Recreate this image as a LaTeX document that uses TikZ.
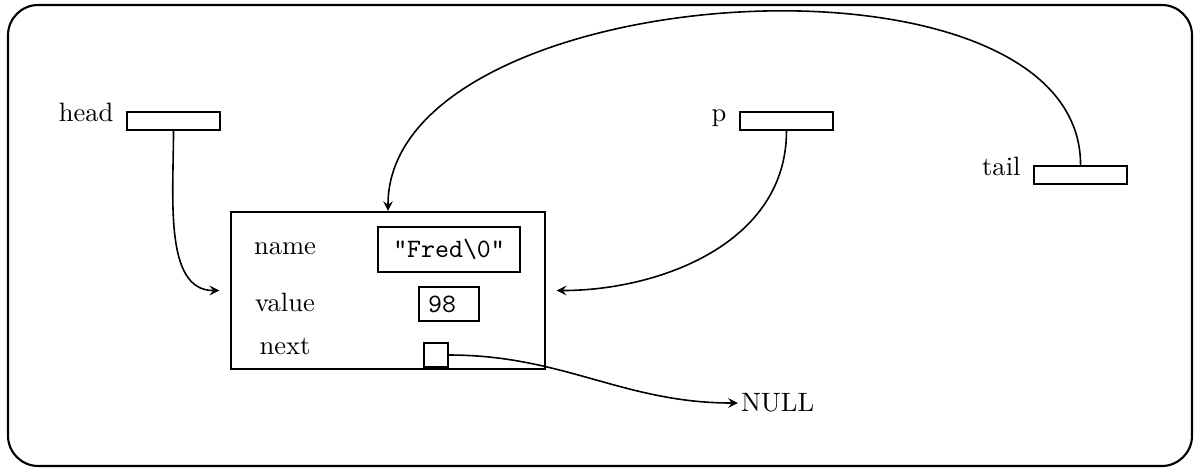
\documentclass[tikz,border=0pt]{standalone}
\usepackage{tikz}
\usetikzlibrary{positioning, calc}

\begin{document}
\begin{tikzpicture}[>=stealth]

    \tikzset{
        varbox/.style={draw, thick, rectangle, minimum width=1.23cm, minimum height=0.238cm, inner sep=0pt},
        varlbl/.style={anchor=base east, inner sep=0pt},
        field/.style={draw, thick, rectangle},
        fldlbl/.style={anchor=base, inner sep=0pt},
        link/.style={->, semithick}
    }

    \useasboundingbox (0,0) rectangle (15.873,6.204);

    %frame
    \draw [thick, rounded corners=0.4cm] (0.106,0.04) rectangle (15.767,6.138);

    %pointer variables
    \node[varbox] (head) at (2.295,4.603) {};
    \node[varbox] (p) at (10.403,4.603) {};
    \node[varbox] (tail) at (14.293,3.889) {};

    \node[varlbl] (headlbl) at ([xshift=-4.5pt]head.west) {head};
    \node[varlbl] (plbl) at ([xshift=-4.5pt]p.west) {p};
    \node[varlbl] (taillbl) at ([xshift=-4.5pt]tail.west) {tail};

    %the record
    \node[field, minimum width=4.153cm, minimum height=2.077cm] (fred) at (5.132,2.361) {};

    \node[fldlbl] (namelbl) at (3.77,2.831) {name};
    \node[fldlbl] (valuelbl) at (3.77,2.077) {value};
    \node[fldlbl] (nextlbl) at (3.77,1.521) {next};

    \node[field, minimum width=1.88cm, minimum height=0.595cm] (name) at (5.94,2.903) {\texttt{"Fred\textbackslash 0"}};
    \node[field, minimum height=0.45cm] (value) at (5.94,2.183) {\texttt{98\phantom{0}}};
    \node[field, minimum size=0.317cm, inner sep=0pt] (next) at (5.767,1.508) {};

    \node[anchor=west, inner sep=1pt] (null) at (9.76,0.873) {NULL};

    %links
    \draw [link, shorten >=4pt] (head.south) to[out=-90, in=180] (fred.west);
    \draw [link, shorten >=4pt] (p.south) to[out=-90, in=0] (fred.east);
    \draw [link] (tail.north) to[out=90, in=90, looseness=0.86] (fred.north);
    \draw [link] (next.east) to[out=0, in=180] (null.west);

\end{tikzpicture}
\end{document}
